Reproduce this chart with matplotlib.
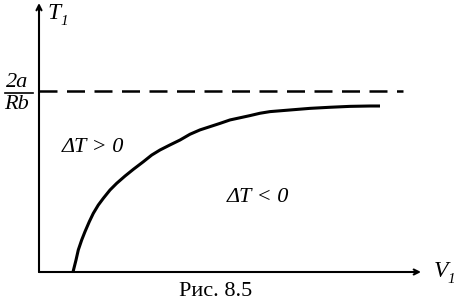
import matplotlib
matplotlib.use("Agg")
import matplotlib.pyplot as plt
from matplotlib.lines import Line2D

plt.rcParams['font.family'] = 'Liberation Serif'

# curve T1(V1), asymptote 2a/Rb = 1
V = [0.34, 0.37, 0.393, 0.427, 0.46, 0.503, 0.543, 0.593, 0.643, 0.71, 0.777, 0.86, 0.943,
     1.043, 1.127, 1.21, 1.31, 1.41, 1.51, 1.61, 1.71, 1.81, 1.91, 2.01, 2.11, 2.21, 2.31,
     2.51, 2.71, 2.91, 3.11, 3.31, 3.41]
T = [0.0, 0.066, 0.122, 0.177, 0.223, 0.278, 0.324, 0.370, 0.407, 0.453, 0.490, 0.530, 0.567,
     0.609, 0.646, 0.674, 0.702, 0.729, 0.761, 0.785, 0.803, 0.821, 0.840, 0.852, 0.864, 0.877, 0.886,
     0.895, 0.904, 0.910, 0.915, 0.917, 0.917]
T_lim = 1.0
v_max = 3.82
t_max = 1.486
dash_end = 3.64

W, H = 462, 302
fig = plt.figure(figsize=(W / 100, H / 100), dpi=100)
ax = fig.add_axes([39 / W, (H - 272) / H, (421 - 39) / W, (272 - 3) / H])
ax.set_xlim(0, v_max)
ax.set_ylim(0, t_max)
ax.axis('off')

# axes with arrows
arrow = dict(arrowstyle='->', lw=1.5, color='black', shrinkA=0, shrinkB=0, mutation_scale=9)
ax.annotate('', xy=(v_max, 0), xytext=(0, 0), arrowprops=arrow, annotation_clip=False)
ax.annotate('', xy=(0, t_max), xytext=(0, 0), arrowprops=arrow, annotation_clip=False)

ax.plot([0, dash_end], [T_lim, T_lim], color='black', lw=1.8, linestyle=(0, (7.2, 3.8)), clip_on=False)
ax.plot(V, T, color='black', lw=2.2, solid_capstyle='butt', solid_joinstyle='round', clip_on=False)

def px(x, y):
    return x / W, 1 - y / H

it = dict(style='italic', ha='left', va='baseline')
fig.text(*px(47, 19), 'T', fontsize=17, **it)
fig.text(*px(60, 25), '1', fontsize=11, **it)
fig.text(*px(434, 277), 'V', fontsize=17, **it)
fig.text(*px(447, 283), '1', fontsize=11, **it)
fig.text(*px(6, 87), '2a', fontsize=16, **it)
fig.text(*px(4, 109), 'Rb', fontsize=16, **it)
fig.add_artist(Line2D([5 / W, 33 / W], [1 - 93 / H, 1 - 93 / H], color='black', lw=1.2))
fig.text(*px(62, 152), 'ΔT > 0', fontsize=16, **it)
fig.text(*px(227, 202), 'ΔT < 0', fontsize=16, **it)
fig.text(*px(215.5, 296), 'Рис. 8.5', fontsize=16, ha='center', va='baseline')

fig.savefig('out.png', dpi=100)
